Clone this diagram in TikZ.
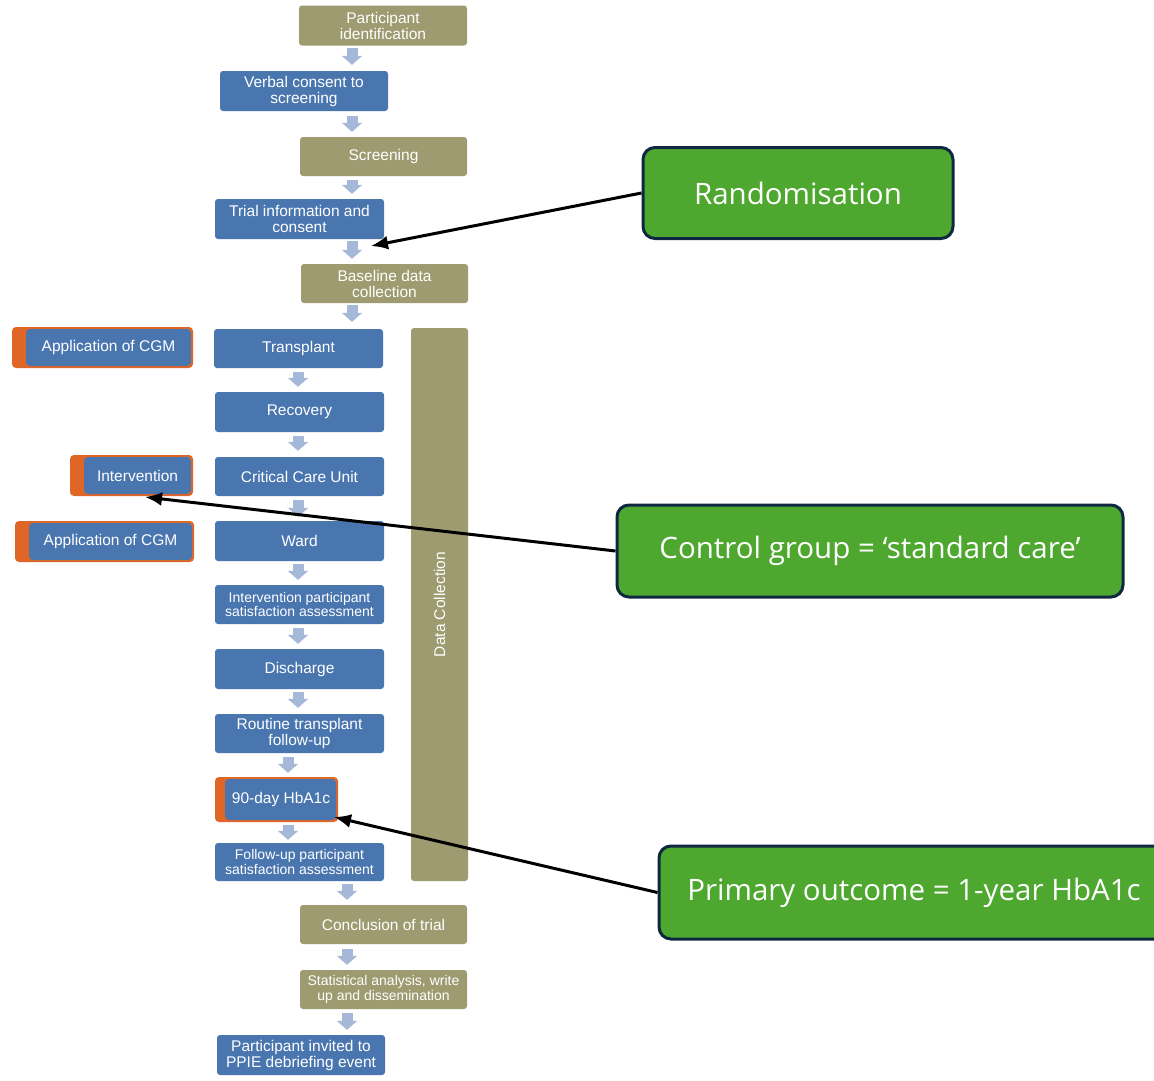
\documentclass[tikz,border=0pt]{standalone}
\usepackage{fontspec}
\setmainfont{Liberation Sans}
\newfontfamily\calloutfont{Open Sans}
\usetikzlibrary{arrows.meta,calc}
\definecolor{tan}{RGB}{158,155,113}
\definecolor{boxblue}{RGB}{74,118,176}
\definecolor{boxorange}{RGB}{224,102,40}
\definecolor{callgreen}{RGB}{78,167,46}
\definecolor{callnavy}{RGB}{14,40,65}
\definecolor{blkarrow}{RGB}{166,184,216}
\begin{document}
\begin{tikzpicture}[x=1pt,y=-1pt,
  base/.style={rounded corners=3, text=white, align=center, inner sep=0,
    font=\fontsize{15.5}{16}\selectfont},
  tanbox/.style={base, fill=tan},
  bluebox/.style={base, fill=boxblue},
  small/.style={font=\fontsize{14}{14.5}\selectfont},
  cgmbox/.style={base, fill=boxorange, rounded corners=4,
    path picture={\fill[boxblue] ([xshift=#1,yshift=-2]path picture bounding box.north west)
      rectangle ([xshift=-2,yshift=2]path picture bounding box.south east);}},
  callout/.style={rounded corners=12, line width=3, draw=callnavy, fill=callgreen,
    text=white, inner sep=0, font=\calloutfont\fontsize{29.5}{32}\selectfont},
  blk/.style={draw=blkarrow, line width=11, -{Triangle[width=20,length=9]}},
  callarrow/.style={line width=3, -{Latex[length=17,width=14]}}
]
\useasboundingbox[fill=white] (0,0) rectangle (1154,1080);

% main flow
\node[tanbox, minimum width=168, minimum height=40] (pi) at (383,25.5) {Participant\\identification};
\node[bluebox, minimum width=168, minimum height=40] (vc) at (304,91) {Verbal consent to\\screening};
\node[tanbox, minimum width=167, minimum height=39] (scr) at (383.5,156.5) {Screening};
\node[bluebox, minimum width=169, minimum height=40] (ti) at (299.5,219) {Trial information and\\consent};
\node[tanbox, minimum width=167, minimum height=39] (bl) at (384.5,283.5) {Baseline data\\collection};
\node[bluebox, minimum width=169, minimum height=39] (tr) at (298.5,348.5) {Transplant};
\node[bluebox, minimum width=169, minimum height=40] (rec) at (299.5,412) {Recovery};
\node[bluebox, minimum width=169, minimum height=39] (ccu) at (299.5,476.5) {Critical Care Unit};
\node[bluebox, minimum width=169, minimum height=40] (ward) at (299.5,541) {Ward};
\node[bluebox, small, minimum width=169, minimum height=39] (ips) at (299.5,604.5) {Intervention participant\\satisfaction assessment};
\node[bluebox, minimum width=169, minimum height=40] (dis) at (299.5,669) {Discharge};
\node[bluebox, minimum width=169, minimum height=39] (rtf) at (299.5,733.5) {Routine transplant\\follow-up};
\node[cgmbox=10, minimum width=123, minimum height=45] (hb) at (276.5,799.5) {\hspace*{9pt}90-day HbA1c};
\node[bluebox, small, minimum width=169, minimum height=38] (fu) at (299.5,862) {Follow-up participant\\satisfaction assessment};
\node[tanbox, minimum width=167, minimum height=39] (con) at (383.5,924.5) {Conclusion of trial};
\node[tanbox, small, minimum width=167, minimum height=39] (sta) at (383.5,989.5) {Statistical analysis, write\\up and dissemination};
\node[bluebox, minimum width=168, minimum height=40] (ppie) at (301,1055) {Participant invited to\\PPIE debriefing event};

% data collection bar
\node[tanbox, minimum width=57, minimum height=553] (dc) at (439.5,604.5) {};
\node[text=white, rotate=90, font=\fontsize{15.5}{16}\selectfont] (dct) at (dc.center) {Data Collection};

% left boxes
\node[cgmbox=14, minimum width=181, minimum height=41] (cgm1) at (102.5,347.5) {\hspace*{12pt}Application of CGM};
\node[cgmbox=14, minimum width=123, minimum height=41] (int) at (131.5,475.5) {\hspace*{12pt}Intervention};
\node[cgmbox=14, minimum width=179, minimum height=41] (cgm2) at (104.5,541.5) {\hspace*{12pt}Application of CGM};

% block arrows
\coordinate (c1) at (352,0);
\coordinate (c2) at (298,0);
\coordinate (c3) at (288,0);
\coordinate (c4) at (347,0);
\draw[blk, shorten <=2, shorten >=6] (pi.south -| c1) -- (vc.north -| c1);
\draw[blk, shorten <=5, shorten >=5] (vc.south -| c1) -- (scr.north -| c1);
\draw[blk, shorten <=4, shorten >=5] (scr.south -| c1) -- (ti.north -| c1);
\draw[blk, shorten <=2, shorten >=5] (ti.south -| c1) -- (bl.north -| c1);
\draw[blk, shorten <=2, shorten >=7] (bl.south -| c1) -- (tr.north -| c1);
\draw[blk, shorten <=4, shorten >=5] (tr.south -| c2) -- (rec.north -| c2);
\draw[blk, shorten <=4, shorten >=6] (rec.south -| c2) -- (ccu.north -| c2);
\draw[blk, shorten <=4, shorten >=4] (ccu.south -| c2) -- (ward.north -| c2);
\draw[blk, shorten <=3, shorten >=5] (ward.south -| c2) -- (ips.north -| c2);
\draw[blk, shorten <=4, shorten >=5] (ips.south -| c2) -- (dis.north -| c2);
\draw[blk, shorten <=3, shorten >=6] (dis.south -| c2) -- (rtf.north -| c2);
\draw[blk, shorten <=4, shorten >=4] (rtf.south -| c3) -- (hb.north -| c3);
\draw[blk, shorten <=3, shorten >=3] (hb.south -| c3) -- (fu.north -| c3);
\draw[blk, shorten <=3, shorten >=5] (fu.south -| c4) -- (con.north -| c4);
\draw[blk, shorten <=5, shorten >=5] (con.south -| c4) -- (sta.north -| c4);
\draw[blk, shorten <=4, shorten >=5] (sta.south -| c4) -- (ppie.north -| c4);

% callouts
\node[callout, minimum width=310, minimum height=91] (rand) at (798,193) {Randomisation};
\node[callout, minimum width=506, minimum height=92] (ctrl) at (870,551) {Control group = ‘standard care’};
\node[callout, minimum width=510, minimum height=93] (prim) at (914,892.5) {Primary outcome = 1-year HbA1c};

\coordinate (t1) at (371,246);
\coordinate (t2) at (145,497);
\coordinate (t3) at (334,817);
\draw[callarrow] (rand.west) -- (t1);
\draw[callarrow] (ctrl.west) -- (t2);
\draw[callarrow] (prim.west) -- (t3);
\end{tikzpicture}
\end{document}
